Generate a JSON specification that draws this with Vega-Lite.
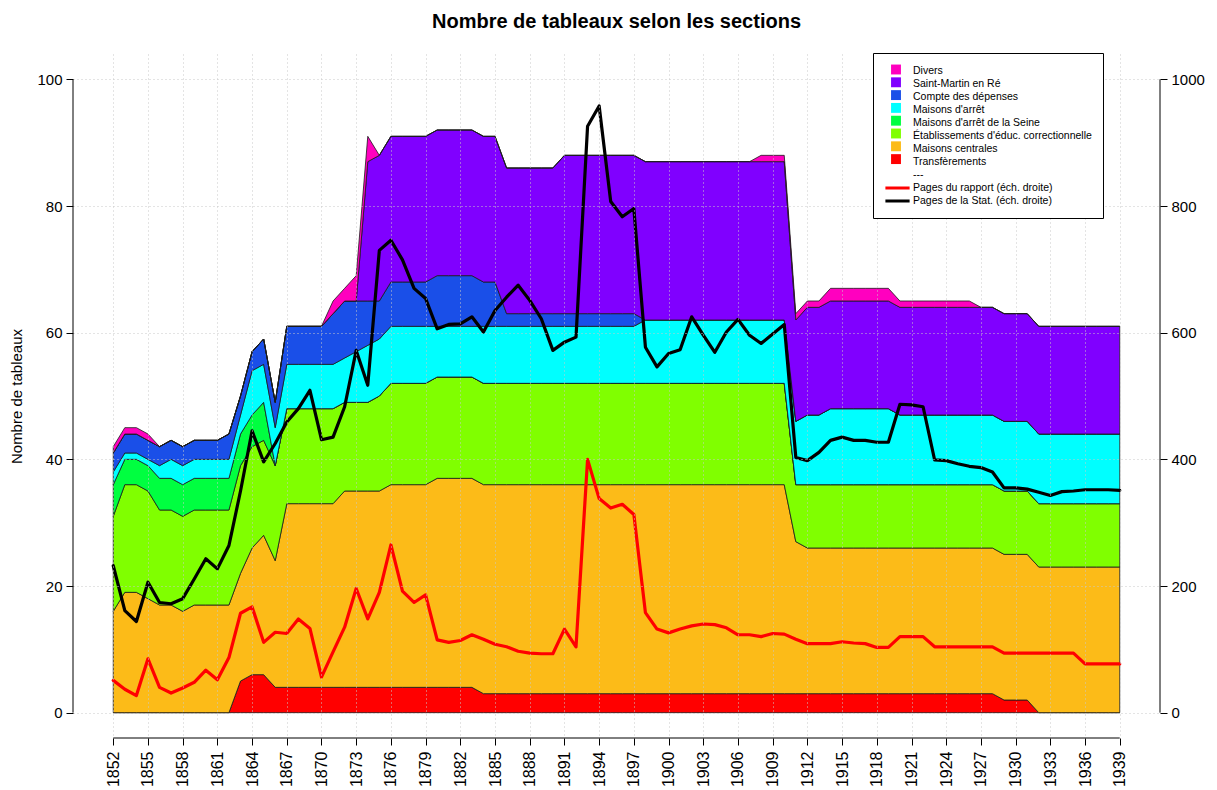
{
  "$schema": "https://vega.github.io/schema/vega-lite/v6.json",
  "width": 1087,
  "height": 684,
  "autosize": {"type": "none"},
  "padding": {"left": 73, "top": 54, "right": 57, "bottom": 52},
  "background": "white",
  "title": {"text": "Nombre de tableaux selon les sections", "font": "Liberation Sans", "fontSize": 20, "fontWeight": "bold", "color": "black", "anchor": "middle", "baseline": "bottom", "offset": 1},
  "config": {"view": {"stroke": null}, "font": "Liberation Sans", "axis": {"labelOverlap": false}},
  "data": {"values": [
    {"year":1852,"tr":0,"mc":16,"ec":15,"ms":5,"ma":2,"cd":3,"sm":0,"dv":1,"rap":51,"stat":232},
    {"year":1853,"tr":0,"mc":19,"ec":17,"ms":4,"ma":1,"cd":3,"sm":0,"dv":1,"rap":37,"stat":161},
    {"year":1854,"tr":0,"mc":19,"ec":17,"ms":4,"ma":1,"cd":3,"sm":0,"dv":1,"rap":27,"stat":144},
    {"year":1855,"tr":0,"mc":18,"ec":17,"ms":4,"ma":1,"cd":3,"sm":0,"dv":1,"rap":85,"stat":206},
    {"year":1856,"tr":0,"mc":17,"ec":15,"ms":5,"ma":2,"cd":3,"sm":0,"dv":0,"rap":40,"stat":174},
    {"year":1857,"tr":0,"mc":17,"ec":15,"ms":5,"ma":3,"cd":3,"sm":0,"dv":0,"rap":31,"stat":172},
    {"year":1858,"tr":0,"mc":16,"ec":15,"ms":5,"ma":3,"cd":3,"sm":0,"dv":0,"rap":39,"stat":180},
    {"year":1859,"tr":0,"mc":17,"ec":15,"ms":5,"ma":3,"cd":3,"sm":0,"dv":0,"rap":48,"stat":211},
    {"year":1860,"tr":0,"mc":17,"ec":15,"ms":5,"ma":3,"cd":3,"sm":0,"dv":0,"rap":67,"stat":243},
    {"year":1861,"tr":0,"mc":17,"ec":15,"ms":5,"ma":3,"cd":3,"sm":0,"dv":0,"rap":52,"stat":227},
    {"year":1862,"tr":0,"mc":17,"ec":15,"ms":5,"ma":3,"cd":4,"sm":0,"dv":0,"rap":87,"stat":264},
    {"year":1863,"tr":5,"mc":17,"ec":17,"ms":5,"ma":3,"cd":3,"sm":0,"dv":0,"rap":157,"stat":350},
    {"year":1864,"tr":6,"mc":20,"ec":16,"ms":5,"ma":7,"cd":3,"sm":0,"dv":0,"rap":167,"stat":445},
    {"year":1865,"tr":6,"mc":22,"ec":15,"ms":6,"ma":6,"cd":4,"sm":0,"dv":0,"rap":111,"stat":396},
    {"year":1866,"tr":4,"mc":20,"ec":15,"ms":0,"ma":6,"cd":4,"sm":0,"dv":0,"rap":127,"stat":425},
    {"year":1867,"tr":4,"mc":29,"ec":15,"ms":0,"ma":7,"cd":6,"sm":0,"dv":0,"rap":125,"stat":459},
    {"year":1868,"tr":4,"mc":29,"ec":15,"ms":0,"ma":7,"cd":6,"sm":0,"dv":0,"rap":148,"stat":480},
    {"year":1869,"tr":4,"mc":29,"ec":15,"ms":0,"ma":7,"cd":6,"sm":0,"dv":0,"rap":133,"stat":509},
    {"year":1870,"tr":4,"mc":29,"ec":15,"ms":0,"ma":7,"cd":6,"sm":0,"dv":0,"rap":56,"stat":431},
    {"year":1871,"tr":4,"mc":29,"ec":15,"ms":0,"ma":7,"cd":8,"sm":0,"dv":2,"rap":96,"stat":435},
    {"year":1872,"tr":4,"mc":31,"ec":14,"ms":0,"ma":7,"cd":9,"sm":0,"dv":2,"rap":135,"stat":483},
    {"year":1873,"tr":4,"mc":31,"ec":14,"ms":0,"ma":8,"cd":8,"sm":0,"dv":4,"rap":196,"stat":572},
    {"year":1874,"tr":4,"mc":31,"ec":14,"ms":0,"ma":9,"cd":7,"sm":22,"dv":4,"rap":148,"stat":517},
    {"year":1875,"tr":4,"mc":31,"ec":15,"ms":0,"ma":9,"cd":6,"sm":23,"dv":0,"rap":190,"stat":730},
    {"year":1876,"tr":4,"mc":32,"ec":16,"ms":0,"ma":9,"cd":7,"sm":23,"dv":0,"rap":265,"stat":746},
    {"year":1877,"tr":4,"mc":32,"ec":16,"ms":0,"ma":9,"cd":7,"sm":23,"dv":0,"rap":192,"stat":715},
    {"year":1878,"tr":4,"mc":32,"ec":16,"ms":0,"ma":9,"cd":7,"sm":23,"dv":0,"rap":174,"stat":670},
    {"year":1879,"tr":4,"mc":32,"ec":16,"ms":0,"ma":9,"cd":7,"sm":23,"dv":0,"rap":186,"stat":654},
    {"year":1880,"tr":4,"mc":33,"ec":16,"ms":0,"ma":8,"cd":8,"sm":23,"dv":0,"rap":115,"stat":606},
    {"year":1881,"tr":4,"mc":33,"ec":16,"ms":0,"ma":8,"cd":8,"sm":23,"dv":0,"rap":111,"stat":613},
    {"year":1882,"tr":4,"mc":33,"ec":16,"ms":0,"ma":8,"cd":8,"sm":23,"dv":0,"rap":114,"stat":614},
    {"year":1883,"tr":4,"mc":33,"ec":16,"ms":0,"ma":8,"cd":8,"sm":23,"dv":0,"rap":123,"stat":625},
    {"year":1884,"tr":3,"mc":33,"ec":16,"ms":0,"ma":9,"cd":7,"sm":23,"dv":0,"rap":116,"stat":601},
    {"year":1885,"tr":3,"mc":33,"ec":16,"ms":0,"ma":9,"cd":7,"sm":23,"dv":0,"rap":108,"stat":635},
    {"year":1886,"tr":3,"mc":33,"ec":16,"ms":0,"ma":9,"cd":2,"sm":23,"dv":0,"rap":104,"stat":656},
    {"year":1887,"tr":3,"mc":33,"ec":16,"ms":0,"ma":9,"cd":2,"sm":23,"dv":0,"rap":97,"stat":675},
    {"year":1888,"tr":3,"mc":33,"ec":16,"ms":0,"ma":9,"cd":2,"sm":23,"dv":0,"rap":94,"stat":651},
    {"year":1889,"tr":3,"mc":33,"ec":16,"ms":0,"ma":9,"cd":2,"sm":23,"dv":0,"rap":93,"stat":622},
    {"year":1890,"tr":3,"mc":33,"ec":16,"ms":0,"ma":9,"cd":2,"sm":23,"dv":0,"rap":93,"stat":572},
    {"year":1891,"tr":3,"mc":33,"ec":16,"ms":0,"ma":9,"cd":2,"sm":25,"dv":0,"rap":132,"stat":585},
    {"year":1892,"tr":3,"mc":33,"ec":16,"ms":0,"ma":9,"cd":2,"sm":25,"dv":0,"rap":104,"stat":593},
    {"year":1893,"tr":3,"mc":33,"ec":16,"ms":0,"ma":9,"cd":2,"sm":25,"dv":0,"rap":400,"stat":926},
    {"year":1894,"tr":3,"mc":33,"ec":16,"ms":0,"ma":9,"cd":2,"sm":25,"dv":0,"rap":338,"stat":958},
    {"year":1895,"tr":3,"mc":33,"ec":16,"ms":0,"ma":9,"cd":2,"sm":25,"dv":0,"rap":323,"stat":807},
    {"year":1896,"tr":3,"mc":33,"ec":16,"ms":0,"ma":9,"cd":2,"sm":25,"dv":0,"rap":329,"stat":783},
    {"year":1897,"tr":3,"mc":33,"ec":16,"ms":0,"ma":9,"cd":2,"sm":25,"dv":0,"rap":313,"stat":796},
    {"year":1898,"tr":3,"mc":33,"ec":16,"ms":0,"ma":10,"cd":0,"sm":25,"dv":0,"rap":158,"stat":577},
    {"year":1899,"tr":3,"mc":33,"ec":16,"ms":0,"ma":10,"cd":0,"sm":25,"dv":0,"rap":132,"stat":546},
    {"year":1900,"tr":3,"mc":33,"ec":16,"ms":0,"ma":10,"cd":0,"sm":25,"dv":0,"rap":126,"stat":567},
    {"year":1901,"tr":3,"mc":33,"ec":16,"ms":0,"ma":10,"cd":0,"sm":25,"dv":0,"rap":132,"stat":573},
    {"year":1902,"tr":3,"mc":33,"ec":16,"ms":0,"ma":10,"cd":0,"sm":25,"dv":0,"rap":137,"stat":625},
    {"year":1903,"tr":3,"mc":33,"ec":16,"ms":0,"ma":10,"cd":0,"sm":25,"dv":0,"rap":140,"stat":596},
    {"year":1904,"tr":3,"mc":33,"ec":16,"ms":0,"ma":10,"cd":0,"sm":25,"dv":0,"rap":139,"stat":569},
    {"year":1905,"tr":3,"mc":33,"ec":16,"ms":0,"ma":10,"cd":0,"sm":25,"dv":0,"rap":134,"stat":601},
    {"year":1906,"tr":3,"mc":33,"ec":16,"ms":0,"ma":10,"cd":0,"sm":25,"dv":0,"rap":123,"stat":621},
    {"year":1907,"tr":3,"mc":33,"ec":16,"ms":0,"ma":10,"cd":0,"sm":25,"dv":0,"rap":123,"stat":596},
    {"year":1908,"tr":3,"mc":33,"ec":16,"ms":0,"ma":10,"cd":0,"sm":25,"dv":1,"rap":120,"stat":583},
    {"year":1909,"tr":3,"mc":33,"ec":16,"ms":0,"ma":10,"cd":0,"sm":25,"dv":1,"rap":125,"stat":598},
    {"year":1910,"tr":3,"mc":33,"ec":16,"ms":0,"ma":10,"cd":0,"sm":25,"dv":1,"rap":124,"stat":613},
    {"year":1911,"tr":3,"mc":24,"ec":9,"ms":0,"ma":10,"cd":0,"sm":16,"dv":1,"rap":116,"stat":403},
    {"year":1912,"tr":3,"mc":23,"ec":10,"ms":0,"ma":11,"cd":0,"sm":17,"dv":1,"rap":109,"stat":398},
    {"year":1913,"tr":3,"mc":23,"ec":10,"ms":0,"ma":11,"cd":0,"sm":17,"dv":1,"rap":109,"stat":411},
    {"year":1914,"tr":3,"mc":23,"ec":10,"ms":0,"ma":12,"cd":0,"sm":17,"dv":2,"rap":109,"stat":430},
    {"year":1915,"tr":3,"mc":23,"ec":10,"ms":0,"ma":12,"cd":0,"sm":17,"dv":2,"rap":112,"stat":435},
    {"year":1916,"tr":3,"mc":23,"ec":10,"ms":0,"ma":12,"cd":0,"sm":17,"dv":2,"rap":110,"stat":430},
    {"year":1917,"tr":3,"mc":23,"ec":10,"ms":0,"ma":12,"cd":0,"sm":17,"dv":2,"rap":109,"stat":430},
    {"year":1918,"tr":3,"mc":23,"ec":10,"ms":0,"ma":12,"cd":0,"sm":17,"dv":2,"rap":103,"stat":427},
    {"year":1919,"tr":3,"mc":23,"ec":10,"ms":0,"ma":12,"cd":0,"sm":17,"dv":2,"rap":103,"stat":427},
    {"year":1920,"tr":3,"mc":23,"ec":10,"ms":0,"ma":11,"cd":0,"sm":17,"dv":1,"rap":120,"stat":487},
    {"year":1921,"tr":3,"mc":23,"ec":10,"ms":0,"ma":11,"cd":0,"sm":17,"dv":1,"rap":120,"stat":486},
    {"year":1922,"tr":3,"mc":23,"ec":10,"ms":0,"ma":11,"cd":0,"sm":17,"dv":1,"rap":120,"stat":483},
    {"year":1923,"tr":3,"mc":23,"ec":10,"ms":0,"ma":11,"cd":0,"sm":17,"dv":1,"rap":104,"stat":399},
    {"year":1924,"tr":3,"mc":23,"ec":10,"ms":0,"ma":11,"cd":0,"sm":17,"dv":1,"rap":104,"stat":398},
    {"year":1925,"tr":3,"mc":23,"ec":10,"ms":0,"ma":11,"cd":0,"sm":17,"dv":1,"rap":104,"stat":393},
    {"year":1926,"tr":3,"mc":23,"ec":10,"ms":0,"ma":11,"cd":0,"sm":17,"dv":1,"rap":104,"stat":389},
    {"year":1927,"tr":3,"mc":23,"ec":10,"ms":0,"ma":11,"cd":0,"sm":17,"dv":0,"rap":104,"stat":387},
    {"year":1928,"tr":3,"mc":23,"ec":10,"ms":0,"ma":11,"cd":0,"sm":17,"dv":0,"rap":104,"stat":380},
    {"year":1929,"tr":2,"mc":23,"ec":10,"ms":0,"ma":11,"cd":0,"sm":17,"dv":0,"rap":94,"stat":355},
    {"year":1930,"tr":2,"mc":23,"ec":10,"ms":0,"ma":11,"cd":0,"sm":17,"dv":0,"rap":94,"stat":355},
    {"year":1931,"tr":2,"mc":23,"ec":10,"ms":0,"ma":11,"cd":0,"sm":17,"dv":0,"rap":94,"stat":353},
    {"year":1932,"tr":0,"mc":23,"ec":10,"ms":0,"ma":11,"cd":0,"sm":17,"dv":0,"rap":94,"stat":348},
    {"year":1933,"tr":0,"mc":23,"ec":10,"ms":0,"ma":11,"cd":0,"sm":17,"dv":0,"rap":94,"stat":343},
    {"year":1934,"tr":0,"mc":23,"ec":10,"ms":0,"ma":11,"cd":0,"sm":17,"dv":0,"rap":94,"stat":349},
    {"year":1935,"tr":0,"mc":23,"ec":10,"ms":0,"ma":11,"cd":0,"sm":17,"dv":0,"rap":94,"stat":350},
    {"year":1936,"tr":0,"mc":23,"ec":10,"ms":0,"ma":11,"cd":0,"sm":17,"dv":0,"rap":77,"stat":352},
    {"year":1937,"tr":0,"mc":23,"ec":10,"ms":0,"ma":11,"cd":0,"sm":17,"dv":0,"rap":77,"stat":352},
    {"year":1938,"tr":0,"mc":23,"ec":10,"ms":0,"ma":11,"cd":0,"sm":17,"dv":0,"rap":77,"stat":352},
    {"year":1939,"tr":0,"mc":23,"ec":10,"ms":0,"ma":11,"cd":0,"sm":17,"dv":0,"rap":77,"stat":351}
  ]},
  "layer": [
    {
      "layer": [
        {
          "transform": [
            {"fold": ["tr","mc","ec","ms","ma","cd","sm","dv"], "as": ["k","n"]},
            {"calculate": "indexof(['tr','mc','ec','ms','ma','cd','sm','dv'], datum.k)", "as": "ord"},
            {"calculate": "[\"Transfèrements\",\"Maisons centrales\",\"Établissements d'éduc. correctionnelle\",\"Maisons d'arrêt de la Seine\",\"Maisons d'arrêt\",\"Compte des dépenses\",\"Saint-Martin en Ré\",\"Divers\"][datum.ord]", "as": "section"}
          ],
          "mark": {"type": "area", "opacity": 1, "fillOpacity": 1, "stroke": "#1a1a1a", "strokeWidth": 0.8, "strokeJoin": "miter"},
          "encoding": {
            "x": {"field": "year", "type": "quantitative", "scale": {"domain": [1848.52, 1942.48], "nice": false, "zero": false},
                  "axis": {"values": [1852,1855,1858,1861,1864,1867,1870,1873,1876,1879,1882,1885,1888,1891,1894,1897,1900,1903,1906,1909,1912,1915,1918,1921,1924,1927,1930,1933,1936,1939],
                           "tickCount": 60, "format": "d", "title": null, "labelAngle": -90, "labelAlign": "right", "labelBaseline": "middle",
                           "labelFont": "Liberation Sans", "labelFontSize": 16, "labelColor": "black", "labelPadding": 6,
                           "tickSize": 7, "tickColor": "black", "domain": false, "labelOverlap": false, "labelBound": false,
                           "grid": true, "gridColor": "#c8c8c8", "gridDash": [1, 3], "gridWidth": 1, "zindex": 1}},
            "y": {"field": "n", "type": "quantitative", "stack": "zero", "scale": {"domain": [-4, 104], "nice": false, "zero": false},
                  "axis": {"values": [0,20,40,60,80,100], "title": "Nombre de tableaux", "titleFont": "Liberation Sans", "titleFontSize": 15,
                           "titleFontWeight": "normal", "titleColor": "black", "titlePadding": 12,
                           "labelFont": "Liberation Sans", "labelFontSize": 15, "labelColor": "black", "labelPadding": 4,
                           "tickSize": 7, "tickColor": "black", "domain": false,
                           "grid": true, "gridColor": "#c8c8c8", "gridDash": [1, 3], "gridWidth": 1, "zindex": 1}},
            "fill": {"field": "section", "type": "nominal",
                     "scale": {"domain": ["Divers","Saint-Martin en Ré","Compte des dépenses","Maisons d'arrêt","Maisons d'arrêt de la Seine","Établissements d'éduc. correctionnelle","Maisons centrales","Transfèrements"],
                               "range": ["#FF00BF","#8000FF","#1A4FE8","#00FFFF","#00FF40","#80FF00","#FCBB18","#FF0000"]},
                     "legend": {"orient": "none", "legendX": 800, "legendY": -1, "title": null, "direction": "vertical", "zindex": 2,
                                "symbolType": "M-0.9,-0.9H0.9V0.9H-0.9Z", "symbolSize": 121, "symbolStrokeWidth": 0, "symbolOffset": 6.5,
                                "labelExpr": "' '", "labelFont": "Liberation Sans", "labelFontSize": 10.5, "labelOffset": 8.5,
                                "rowPadding": 1.8, "padding": 11, "strokeColor": null, "fillColor": null}},
            "order": {"field": "ord", "type": "quantitative"}
          }
        },
        {
          "data": {"values": [{}]},
          "mark": {"type": "rule", "color": "black", "strokeWidth": 1},
          "encoding": {"x": {"datum": 1852, "type": "quantitative"}, "x2": {"datum": 1939}, "y": {"datum": -4, "type": "quantitative"}}
        },
        {
          "data": {"values": [{}]},
          "mark": {"type": "rule", "color": "black", "strokeWidth": 1},
          "encoding": {"x": {"datum": 1848.52, "type": "quantitative"}, "y": {"datum": 0, "type": "quantitative"}, "y2": {"datum": 100}}
        },
        {
          "data": {"values": [{}]},
          "mark": {"type": "rule", "color": "black", "strokeWidth": 1},
          "encoding": {"x": {"datum": 1942.48, "type": "quantitative"}, "y": {"datum": 0, "type": "quantitative"}, "y2": {"datum": 100}}
        }
      ]
    },
    {
      "transform": [
        {"fold": ["rap","stat"], "as": ["k","pages"]},
        {"calculate": "datum.k == 'rap' ? 'Pages du rapport (éch. droite)' : 'Pages de la Stat. (éch. droite)'", "as": "section"}
      ],
      "mark": {"type": "line", "strokeWidth": 3.2, "strokeJoin": "round", "strokeCap": "round"},
      "encoding": {
        "x": {"field": "year", "type": "quantitative"},
        "y": {"field": "pages", "type": "quantitative", "scale": {"domain": [-40, 1040], "nice": false, "zero": false},
              "axis": {"orient": "right", "values": [0,200,400,600,800,1000], "format": "d", "title": null,
                       "labelFont": "Liberation Sans", "labelFontSize": 15, "labelColor": "black", "labelPadding": 4,
                       "tickSize": 7, "tickColor": "black", "domain": false, "grid": false}},
        "stroke": {"field": "section", "type": "nominal",
                   "scale": {"domain": ["Divers","Saint-Martin en Ré","Compte des dépenses","Maisons d'arrêt","Maisons d'arrêt de la Seine","Établissements d'éduc. correctionnelle","Maisons centrales","Transfèrements","---","Pages du rapport (éch. droite)","Pages de la Stat. (éch. droite)"],
                             "range": ["transparent","transparent","transparent","transparent","transparent","transparent","transparent","transparent","transparent","#FF0000","#000000"]},
                   "legend": {"orient": "none", "legendX": 800, "legendY": -1, "title": null, "direction": "vertical", "zindex": 1,
                              "symbolType": "M-2.2,0H2.2", "symbolSize": 121, "symbolStrokeWidth": 3, "symbolFillColor": "transparent", "symbolOffset": 6.5,
                              "labelFont": "Liberation Sans", "labelFontSize": 10.5, "labelColor": "black", "labelOffset": 8.5, "labelLimit": 400,
                              "rowPadding": 0, "padding": 11, "strokeColor": "black", "fillColor": "white", "cornerRadius": 0}}
      }
    }
  ],
  "resolve": {"scale": {"y": "independent"}}
}
